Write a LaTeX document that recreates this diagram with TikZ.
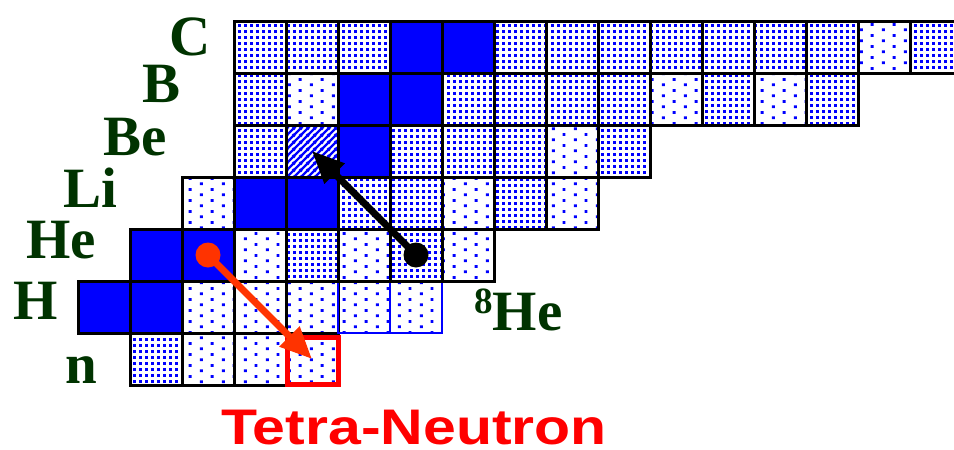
\documentclass[tikz,border=0pt]{standalone}
\usepackage{fontspec}
\setmainfont{Liberation Serif}
\setsansfont{Liberation Sans}
\usepackage{xcolor}
\usepackage{graphicx}
\usepackage{tikz}
\usetikzlibrary{arrows.meta, patterns, positioning}

\definecolor{elemgreen}{RGB}{0,51,0}
\definecolor{dotorange}{RGB}{255,51,0}

\pgfdeclarepatternformonly{densedots}{\pgfpointorigin}{\pgfqpoint{5.5pt}{5.5pt}}{\pgfqpoint{5.5pt}{5.5pt}}{
    \pgfpathrectangle{\pgfqpoint{1.3pt}{1.3pt}}{\pgfqpoint{2.8pt}{2.8pt}}
    \pgfusepath{fill}}
\pgfdeclarepatternformonly{sparsedots}{\pgfpointorigin}{\pgfqpoint{22pt}{11pt}}{\pgfqpoint{22pt}{11pt}}{
    \pgfpathrectangle{\pgfqpoint{2pt}{1pt}}{\pgfqpoint{3pt}{3pt}}
    \pgfpathrectangle{\pgfqpoint{13pt}{6.5pt}}{\pgfqpoint{3pt}{3pt}}
    \pgfusepath{fill}}
\pgfdeclarepatternformonly{bluehatch}{\pgfpointorigin}{\pgfqpoint{7pt}{7pt}}{\pgfqpoint{7pt}{7pt}}{
    \pgfsetlinewidth{2.6pt}
    \pgfpathmoveto{\pgfqpoint{-1pt}{-1pt}}\pgfpathlineto{\pgfqpoint{8pt}{8pt}}
    \pgfpathmoveto{\pgfqpoint{-1pt}{6pt}}\pgfpathlineto{\pgfqpoint{1pt}{8pt}}
    \pgfpathmoveto{\pgfqpoint{6pt}{-1pt}}\pgfpathlineto{\pgfqpoint{8pt}{1pt}}
    \pgfusepath{stroke}}

\newcommand{\elemfont}{\bfseries\fontsize{57}{60}\selectfont}
\newcommand{\tetrafont}{\sffamily\bfseries\fontsize{50}{52}\selectfont}

\tikzset{
    cell/.style={draw, rectangle, line width=3pt, minimum size=52pt, inner sep=0pt, outer sep=0pt},
    stable/.style={cell, fill=blue},
    dense/.style={cell, pattern=densedots, pattern color=blue},
    sparse/.style={cell, pattern=sparsedots, pattern color=blue},
    hatch/.style={cell, pattern=bluehatch, pattern color=blue},
    blueedge/.style={sparse, draw=blue, line width=2pt},
    elem/.style={text=elemgreen, font=\elemfont, anchor=base west, inner sep=0pt},
    tetrabox/.style={draw=red, line width=5pt},
    heavyarrow/.style={line width=7pt, -{Triangle[length=32pt,width=27pt]}}
}

\begin{document}
\begin{tikzpicture}[x=1pt, y=-1pt]
    \useasboundingbox (0,0) rectangle (954,450);

    % rows of the chart, n up to C
    \foreach \kind [count=\n from 1] in {dense,sparse,sparse,sparse}
        \node[\kind] (n\n) at ({104+52*\n},359) {};
    \foreach \kind [count=\n from 0] in {stable,stable,sparse,sparse,sparse,blueedge,blueedge}
        \node[\kind] (h\n) at ({104+52*\n},307) {};
    \foreach \kind [count=\n from 1] in {stable,stable,sparse,dense,sparse,dense,sparse}
        \node[\kind] (he\n) at ({104+52*\n},255) {};
    \foreach \kind [count=\n from 2] in {sparse,stable,stable,dense,dense,sparse,dense,sparse}
        \node[\kind] (li\n) at ({104+52*\n},203) {};
    \foreach \kind [count=\n from 3] in {dense,hatch,stable,dense,dense,dense,sparse,dense}
        \node[\kind] (be\n) at ({104+52*\n},151) {};
    \foreach \kind [count=\n from 3] in {dense,sparse,stable,stable,dense,dense,dense,dense,sparse,dense,sparse,dense}
        \node[\kind] (b\n) at ({104+52*\n},99) {};
    \foreach \kind [count=\n from 3] in {dense,dense,dense,stable,stable,dense,dense,dense,dense,dense,dense,dense,sparse,dense}
        \node[\kind] (c\n) at ({104+52*\n},47) {};

    \draw[tetrabox] ([xshift=1.5pt,yshift=0.5pt]n4.south west) rectangle ([xshift=0.5pt,yshift=-4.5pt]n4.north east);

    % element labels
    \node[elem] (lblc) at (169,55) {C};
    \node[elem] (lblb) at (142,102) {B};
    \node[elem] (lblbe) at (103,155) {Be};
    \node[elem] (lblli) at (63,207) {Li};
    \node[elem] (lblhe) at (26,258) {He};
    \node[elem] (lblh) at (13,319) {H};
    \node[elem] (lbln) at (65,383) {n};
    \node[elem] (lblhe8) at (474,330) {{\fontsize{37}{40}\selectfont\raisebox{17pt}{8}}He};
    \node[text=red, font=\tetrafont, anchor=base west, inner sep=0pt] (lbltetra) at (221,444) {\scalebox{1.18}[1]{Tetra-Neutron}};

    % arrows
    \fill[dotorange] (he2.center) circle (12.5pt);
    \draw[heavyarrow, dotorange] (he2.center) -- (n4.center);
    \fill (he6.center) circle (12.5pt);
    \draw[heavyarrow] (he6.center) -- (be4.center);
\end{tikzpicture}
\end{document}
